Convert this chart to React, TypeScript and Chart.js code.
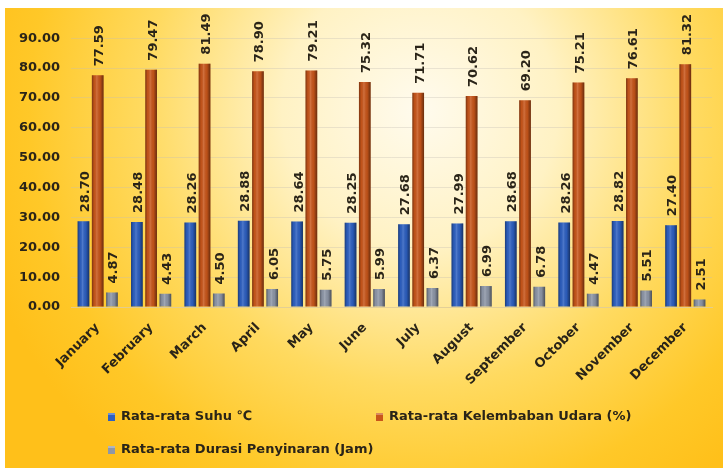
import React, { useEffect, useRef } from "react";
import { Chart, registerables } from "chart.js";

Chart.register(...registerables);

const categories = [
  "January", "February", "March", "April", "May", "June",
  "July", "August", "September", "October", "November", "December",
];
const suhu = [28.70, 28.48, 28.26, 28.88, 28.64, 28.25, 27.68, 27.99, 28.68, 28.26, 28.82, 27.40];
const kelembaban = [77.59, 79.47, 81.49, 78.90, 79.21, 75.32, 71.71, 70.62, 69.20, 75.21, 76.61, 81.32];
const durasi = [4.87, 4.43, 4.50, 6.05, 5.75, 5.99, 6.37, 6.99, 6.78, 4.47, 5.51, 2.51];
const seriesLabels = [
  "Rata-rata Suhu ℃",
  "Rata-rata Kelembaban Udara (%)",
  "Rata-rata Durasi Penyinaran (Jam)",
];
const yTickValues = [0, 10, 20, 30, 40, 50, 60, 70, 80, 90];

const FONT_FAMILY = "'DejaVu Sans', sans-serif";
const TEXT_COLOR = "#2a2418";
const seriesColors = ["#2D60C2", "#C9561A", "#8E97A8"];

const backgroundPlugin = {
  id: "bgGradient",
  beforeDraw(chart: any) {
    const { ctx, width, height } = chart;
    ctx.save();
    ctx.fillStyle = "#ffffff";
    ctx.fillRect(0, 0, width, height);
    const g = ctx.createRadialGradient(420, 110, 0, 420, 110, 460);
    g.addColorStop(0, "#FFFBEE");
    g.addColorStop(0.3, "#FFF2C4");
    g.addColorStop(0.6, "#FFDA60");
    g.addColorStop(0.85, "#FFC828");
    g.addColorStop(1, "#FFC01A");
    ctx.fillStyle = g;
    ctx.fillRect(5, 8, width - 5, height - 8);
    ctx.restore();
  },
};

const barShadePlugin = {
  id: "barShade",
  afterDatasetsDraw(chart: any) {
    const ctx = chart.ctx;
    ctx.save();
    chart.data.datasets.forEach((ds: any, di: number) => {
      const meta = chart.getDatasetMeta(di);
      meta.data.forEach((el: any) => {
        const { x, y, base, width } = el.getProps(["x", "y", "base", "width"], true);
        const l = x - width / 2;
        const g = ctx.createLinearGradient(l, 0, l + width, 0);
        g.addColorStop(0, "rgba(0,0,0,0.38)");
        g.addColorStop(0.2, "rgba(0,0,0,0.04)");
        g.addColorStop(0.42, "rgba(255,255,255,0.16)");
        g.addColorStop(0.7, "rgba(0,0,0,0.06)");
        g.addColorStop(1, "rgba(0,0,0,0.48)");
        ctx.fillStyle = g;
        ctx.fillRect(l, y, width, base - y);
      });
    });
    // data labels
    ctx.fillStyle = TEXT_COLOR;
    ctx.font = `bold 13px ${FONT_FAMILY}`;
    ctx.textAlign = "left";
    ctx.textBaseline = "middle";
    chart.data.datasets.forEach((ds: any, di: number) => {
      const meta = chart.getDatasetMeta(di);
      meta.data.forEach((el: any, i: number) => {
        const { x, y } = el.getProps(["x", "y"], true);
        ctx.save();
        ctx.translate(x + 2, y - 9);
        ctx.rotate(-Math.PI / 2);
        ctx.fillText(Number(ds.data[i]).toFixed(2), 0, 0);
        ctx.restore();
      });
    });
    ctx.restore();
  },
};

const legendPlugin = {
  id: "customLegend",
  afterDraw(chart: any) {
    const ctx = chart.ctx;
    const area = chart.chartArea;
    const h = chart.height;
    const items = [
      { i: 0, x: area.left + 37, y: h - 51 },
      { i: 1, x: area.left + 305, y: h - 51 },
      { i: 2, x: area.left + 37, y: h - 18 },
    ];
    ctx.save();
    ctx.font = `bold 13px ${FONT_FAMILY}`;
    ctx.textBaseline = "middle";
    ctx.textAlign = "left";
    items.forEach((it) => {
      ctx.fillStyle = seriesColors[it.i];
      ctx.fillRect(it.x, it.y - 4, 7, 8);
      ctx.fillStyle = "rgba(255,255,255,0.3)";
      ctx.fillRect(it.x, it.y - 4, 7, 2);
      ctx.fillStyle = TEXT_COLOR;
      ctx.fillText(chart.data.datasets[it.i].label, it.x + 13, it.y);
    });
    ctx.restore();
  },
};

export default function App() {
  const ref = useRef<HTMLCanvasElement | null>(null);
  useEffect(() => {
    document.body.style.margin = "0";
    if (!ref.current) return;
    const font = { family: FONT_FAMILY, size: 13, weight: "bold" as const };
    const chart = new Chart(ref.current, {
      type: "bar",
      data: {
        labels: categories,
        datasets: [
          { label: seriesLabels[0], data: suhu, backgroundColor: seriesColors[0] },
          { label: seriesLabels[1], data: kelembaban, backgroundColor: seriesColors[1] },
          { label: seriesLabels[2], data: durasi, backgroundColor: seriesColors[2] },
        ].map((d) => ({ ...d, barPercentage: 0.82, categoryPercentage: 0.8 })),
      },
      options: {
        responsive: false,
        animation: false,
        devicePixelRatio: 1,
        layout: { padding: { left: 15, right: 11, top: 9, bottom: 76 } },
        plugins: { legend: { display: false }, tooltip: { enabled: false } },
        scales: {
          x: {
            grid: { display: false },
            border: { display: true, color: "rgba(225,205,150,0.8)" },
            ticks: { maxRotation: 45, minRotation: 45, font, color: TEXT_COLOR, padding: 5, autoSkip: false },
            afterFit: (s: any) => { s.height = 85; },
          },
          y: {
            min: 0,
            max: 96.5,
            grid: { color: "rgba(195,190,180,0.35)", drawTicks: false },
            border: { display: false },
            ticks: { padding: 11, font, color: TEXT_COLOR, callback: (v: any) => Number(v).toFixed(2) },
            afterBuildTicks: (s: any) => { s.ticks = yTickValues.map((v) => ({ value: v })); },
            afterFit: (s: any) => { s.width = 56; },
          },
        },
      },
      plugins: [backgroundPlugin, barShadePlugin, legendPlugin],
    });
    return () => chart.destroy();
  }, []);
  return (
    <div style={{ width: 723, height: 468 }}>
      <canvas ref={ref} width={723} height={468} style={{ display: "block" }} />
    </div>
  );
}
